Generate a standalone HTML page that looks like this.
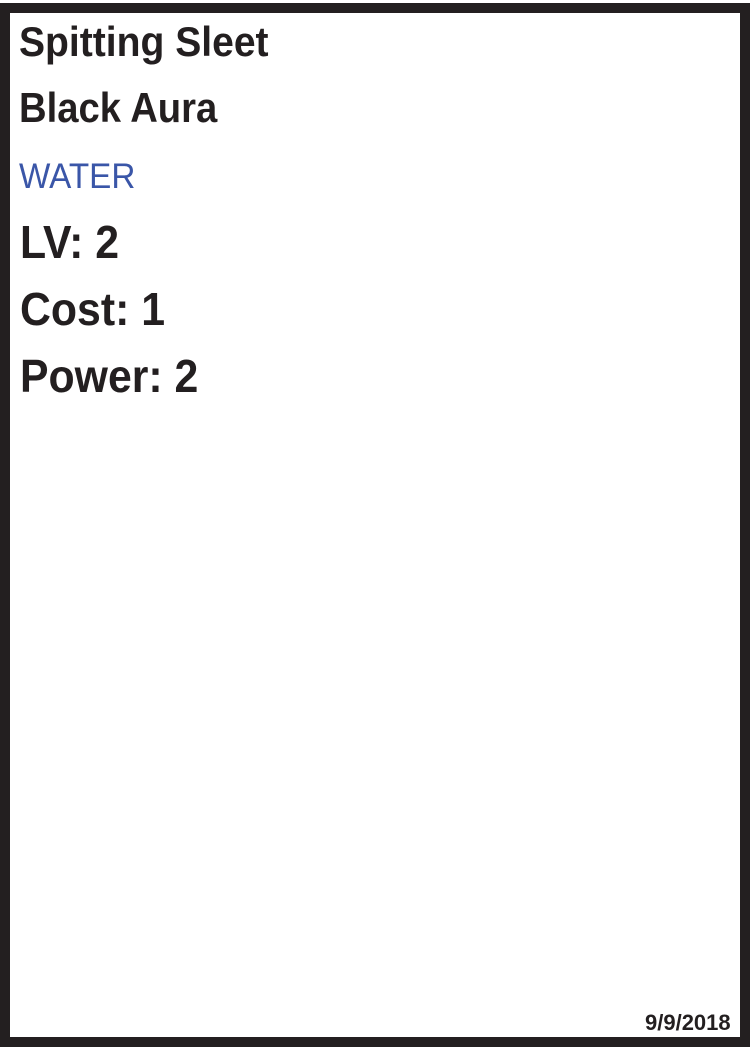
<!DOCTYPE html>
<html><head><meta charset="utf-8"><style>
html,body{margin:0;padding:0;background:#fff;}
body{width:750px;height:1050px;position:relative;overflow:hidden;font-family:"Liberation Sans",sans-serif;color:#231f20;}
.frame{position:absolute;left:0;top:3px;width:730px;height:1024px;border:10px solid #231f20;}
.t{position:absolute;left:19px;white-space:nowrap;font-weight:bold;transform-origin:0 0;}
</style></head><body>
<div class="frame"></div>
<div class="t" style="top:21px;font-size:42px;line-height:42px;transform:scaleX(0.93)">Spitting Sleet</div>
<div class="t" style="top:87px;font-size:42px;line-height:42px;transform:scaleX(0.91)">Black Aura</div>
<div class="t" style="top:159px;font-size:35px;line-height:35px;font-weight:normal;color:#3a56a8;transform:scaleX(0.95)">WATER</div>
<div class="t" style="left:20px;top:219px;font-size:46px;line-height:46px;transform:scaleX(0.93)">LV: 2</div>
<div class="t" style="left:20px;top:286px;font-size:46px;line-height:46px;transform:scaleX(0.93)">Cost: 1</div>
<div class="t" style="left:20px;top:353px;font-size:46px;line-height:46px;transform:scaleX(0.93)">Power: 2</div>
<div class="t" style="left:645px;top:1012px;font-size:22px;line-height:22px;">9/9/2018</div>
</body></html>
